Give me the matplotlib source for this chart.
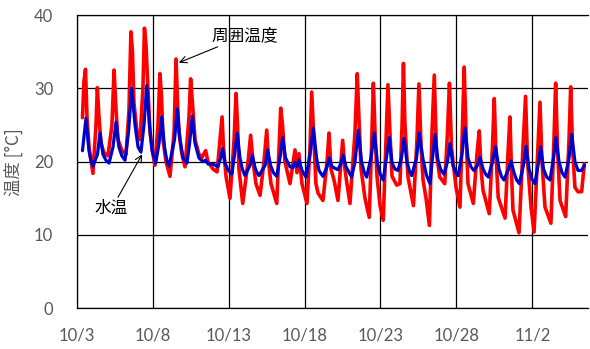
import matplotlib
matplotlib.use("Agg")
import matplotlib.pyplot as plt

# 経過日数 (10/3 0:00 からの日数) と温度 [°C]
ambient_day = [0.38, 0.48, 0.58, 0.68, 0.81, 1.07,
               1.27, 1.36, 1.47, 1.60, 1.80, 2.06,
               2.32, 2.46, 2.59, 2.72, 2.98, 3.25,
               3.44, 3.57, 3.67, 3.77, 3.97, 4.17,
               4.36, 4.46, 4.56, 4.69, 4.83, 5.02, 5.15,
               5.35, 5.48, 5.58, 5.68, 5.88, 6.14,
               6.41, 6.54, 6.64, 6.73, 6.93, 7.13,
               7.39, 7.50, 7.62, 7.79, 8.05, 8.25, 8.49, 8.64, 8.97, 9.24,
               9.43, 9.57, 9.66, 9.83, 10.09,
               10.36, 10.49, 10.59, 10.68, 10.93,
               11.28, 11.45, 11.61, 11.80, 12.07,
               12.33, 12.51, 12.63, 12.79, 13.17,
               13.32, 13.43, 13.55, 13.71, 14.04, 14.37, 14.50, 14.63, 14.83, 15.16,
               15.36, 15.47, 15.59, 15.75, 15.89, 16.21,
               16.48, 16.61, 16.74, 16.94, 17.20,
               17.40, 17.51, 17.66, 17.79, 17.99,
               18.32, 18.47, 18.58, 18.72, 18.98, 19.26,
               19.41, 19.53, 19.64, 19.77, 19.97, 20.18,
               20.36, 20.49, 20.62, 20.76, 21.07, 21.28,
               21.42, 21.51, 21.61, 21.81, 22.17,
               22.40, 22.53, 22.67, 22.80, 23.00, 23.22,
               23.39, 23.54, 23.69, 23.90, 24.23,
               24.41, 24.54, 24.67, 24.97, 25.23,
               25.40, 25.51, 25.63, 25.76, 26.11,
               26.35, 26.50, 26.62, 26.75, 27.16,
               27.37, 27.49, 27.60, 27.75, 28.20,
               28.39, 28.52, 28.62, 28.72, 29.12,
               29.38, 29.55, 29.68, 29.91, 30.11,
               30.37, 30.50, 30.63, 30.83, 31.22,
               31.42, 31.53, 31.65, 31.82, 32.19,
               32.41, 32.52, 32.64, 32.80, 33.00, 33.24, 33.42]
ambient_temp = [26.0, 31.0, 32.6, 26.0, 22.0, 18.4,
                25.0, 30.1, 26.0, 22.5, 21.2, 20.8,
                25.0, 32.5, 27.0, 23.0, 21.5, 21.0,
                27.0, 37.7, 35.0, 28.0, 24.0, 23.0,
                30.0, 38.2, 36.0, 30.0, 24.0, 21.0, 19.5,
                25.0, 32.0, 29.0, 23.0, 20.0, 18.0,
                24.0, 34.0, 28.0, 24.0, 21.0, 19.3,
                26.0, 31.3, 28.0, 23.0, 21.0, 20.6, 21.5, 20.0, 19.0, 18.6,
                23.0, 26.1, 22.0, 18.0, 15.0,
                23.0, 29.3, 25.0, 19.0, 14.3,
                20.0, 23.6, 20.0, 17.0, 15.4,
                20.0, 24.3, 20.0, 17.0, 14.3,
                22.0, 27.3, 25.0, 20.0, 17.0, 21.6, 18.5, 21.1, 17.0, 14.3,
                22.0, 29.5, 24.0, 17.0, 15.7, 14.7,
                20.0, 23.9, 19.0, 17.5, 14.7,
                20.0, 22.9, 19.0, 17.0, 14.3,
                24.0, 32.0, 26.0, 19.0, 15.0, 12.4,
                22.0, 30.7, 24.0, 18.0, 14.0, 12.0,
                23.0, 30.5, 24.0, 18.0, 16.8, 17.0,
                25.0, 33.4, 25.0, 17.9, 14.0,
                23.0, 30.6, 22.0, 17.5, 15.0, 11.3,
                24.0, 31.8, 21.0, 17.9, 17.0,
                24.0, 30.7, 22.0, 16.5, 13.8,
                25.0, 32.9, 24.0, 17.0, 14.3,
                21.0, 24.2, 19.0, 16.1, 12.9,
                22.0, 28.6, 21.0, 15.1, 12.3,
                21.0, 26.1, 19.0, 13.4, 10.3,
                22.0, 28.9, 20.0, 13.8, 10.4,
                22.0, 28.1, 20.0, 13.8, 11.6,
                23.0, 30.7, 22.0, 14.7, 12.5,
                23.0, 30.2, 22.0, 16.5, 15.9, 15.9, 19.7]

water_day = [0.38, 0.61, 0.81, 0.93, 1.07,
             1.37, 1.53, 1.73, 1.92, 2.13,
             2.39, 2.59, 2.78, 2.97, 3.18,
             3.41, 3.62, 3.84, 4.04, 4.23,
             4.43, 4.61, 4.79, 4.96, 5.20,
             5.42, 5.60, 5.78, 5.93, 6.08,
             6.44, 6.62, 6.80, 7.00, 7.26,
             7.43, 7.61, 7.79, 8.05, 8.31, 8.48, 8.64, 9.04, 9.30,
             9.47, 9.61, 9.76, 9.98, 10.22,
             10.39, 10.57, 10.75, 10.90, 11.08,
             11.41, 11.56, 11.74, 11.87, 12.00,
             12.40, 12.57, 12.76, 12.95, 13.17,
             13.38, 13.56, 13.75, 14.04, 14.24, 14.37, 14.50, 14.63, 14.83, 15.10,
             15.36, 15.58, 15.79, 15.95, 16.21,
             16.48, 16.62, 16.81, 17.20, 17.40, 17.53, 17.73, 18.10,
             18.32, 18.54, 18.75, 18.92, 19.09,
             19.37, 19.59, 19.80, 19.98, 20.18,
             20.39, 20.58, 20.76, 20.95, 21.15,
             21.38, 21.55, 21.74, 21.89, 22.05,
             22.37, 22.55, 22.80, 23.02, 23.26,
             23.42, 23.59, 23.78, 23.97, 24.18,
             24.41, 24.58, 24.77, 24.94, 25.12,
             25.36, 25.56, 25.76, 25.95, 26.15,
             26.39, 26.55, 26.75, 26.92, 27.10,
             27.37, 27.58, 27.80, 27.96, 28.13,
             28.43, 28.59, 28.79, 28.96, 29.14,
             29.41, 29.58, 29.78, 29.97, 30.17,
             30.37, 30.55, 30.73, 30.94, 31.16,
             31.39, 31.55, 31.75, 31.95, 32.15,
             32.41, 32.59, 32.80, 33.00, 33.23, 33.43]
water_temp = [21.5, 25.9, 21.5, 20.2, 19.4,
              21.0, 23.9, 21.0, 20.2, 19.8,
              22.0, 25.4, 22.0, 20.8, 20.2,
              24.0, 30.0, 25.0, 22.0, 21.3,
              25.0, 30.4, 25.0, 21.5, 19.8,
              22.5, 26.1, 22.0, 20.2, 19.4,
              23.0, 27.2, 23.0, 20.5, 19.8,
              22.5, 26.2, 22.5, 20.5, 20.0, 20.2, 19.7, 19.6, 19.3,
              20.5, 21.8, 19.8, 18.8, 18.3,
              21.0, 23.9, 20.5, 19.0, 18.1,
              19.5, 20.9, 19.2, 18.5, 18.1,
              19.5, 21.6, 19.5, 18.5, 18.0,
              20.5, 23.3, 20.5, 19.3, 19.2, 19.9, 19.3, 20.2, 18.8, 17.9,
              21.0, 24.6, 20.5, 18.8, 18.0,
              19.3, 20.5, 19.3, 18.9, 19.8, 20.9, 19.3, 17.9,
              20.0, 24.3, 20.0, 18.6, 17.9,
              20.5, 23.9, 19.8, 18.3, 17.5,
              20.5, 23.3, 19.8, 19.0, 18.8,
              20.5, 23.2, 20.0, 18.8, 18.1,
              20.5, 23.9, 20.3, 18.2, 17.0,
              20.5, 23.7, 20.2, 18.9, 18.3,
              20.0, 22.5, 19.5, 18.6, 18.1,
              21.0, 24.6, 20.5, 19.3, 18.8,
              19.5, 20.6, 19.0, 18.3, 17.9,
              20.0, 22.0, 19.0, 18.0, 17.5,
              19.0, 20.1, 18.5, 17.5, 17.0,
              19.5, 22.1, 19.0, 17.6, 17.0,
              19.5, 22.0, 19.0, 17.9, 17.5,
              20.5, 23.3, 20.0, 18.5, 17.9,
              20.5, 23.7, 20.0, 18.8, 18.8, 19.5]

tick_days = [0, 5, 10, 15, 20, 25, 30]
tick_labels = ["10/3", "10/8", "10/13", "10/18", "10/23", "10/28", "11/2"]

jp = ["Noto Sans CJK JP", "DejaVu Sans"]

fig = plt.figure(figsize=(5.9, 3.49), dpi=100)
ax = fig.add_axes([0.130, 0.1166, 0.8666, 0.8404])

# 周囲温度 (赤) の上に水温 (青) を重ねる
ax.plot(ambient_day, ambient_temp, color="#ff0000", lw=2.6,
        solid_joinstyle="round", solid_capstyle="round")
ax.plot(water_day, water_temp, color="#0000cc", lw=2.3,
        solid_joinstyle="round", solid_capstyle="round")

ax.set_xlim(0, 33.66)
ax.set_ylim(0, 40)
ax.set_xticks(tick_days)
ax.set_xticklabels(tick_labels)
ax.set_yticks([0, 10, 20, 30, 40])
ax.grid(True, color="black", lw=0.9)
ax.set_axisbelow(True)
ax.tick_params(length=0, labelsize=12, colors="#595959")
ax.tick_params(axis="x", pad=14)
ax.tick_params(axis="y", pad=17)
for lab in ax.get_xticklabels() + ax.get_yticklabels():
    lab.set_family("Lato")

for side in ["left", "bottom", "top"]:
    ax.spines[side].set_color("black")
    ax.spines[side].set_linewidth(0.9)
ax.spines["right"].set_visible(False)

ax.set_ylabel("温度 [°C]", family=jp, fontsize=12.5, color="#595959", labelpad=8)

arrow = dict(arrowstyle="->", color="black", lw=0.8, shrinkA=0, shrinkB=0)
ax.annotate("周囲温度", xy=(6.73, 33.5), xytext=(8.9, 37.2), family=jp,
            fontsize=12, ha="left", va="center", arrowprops=arrow)
ax.annotate("水温", xy=(4.31, 21.0), xytext=(2.3, 13.6), family=jp,
            fontsize=12, ha="center", va="center", arrowprops=arrow)

fig.savefig("out.png", dpi=100)
